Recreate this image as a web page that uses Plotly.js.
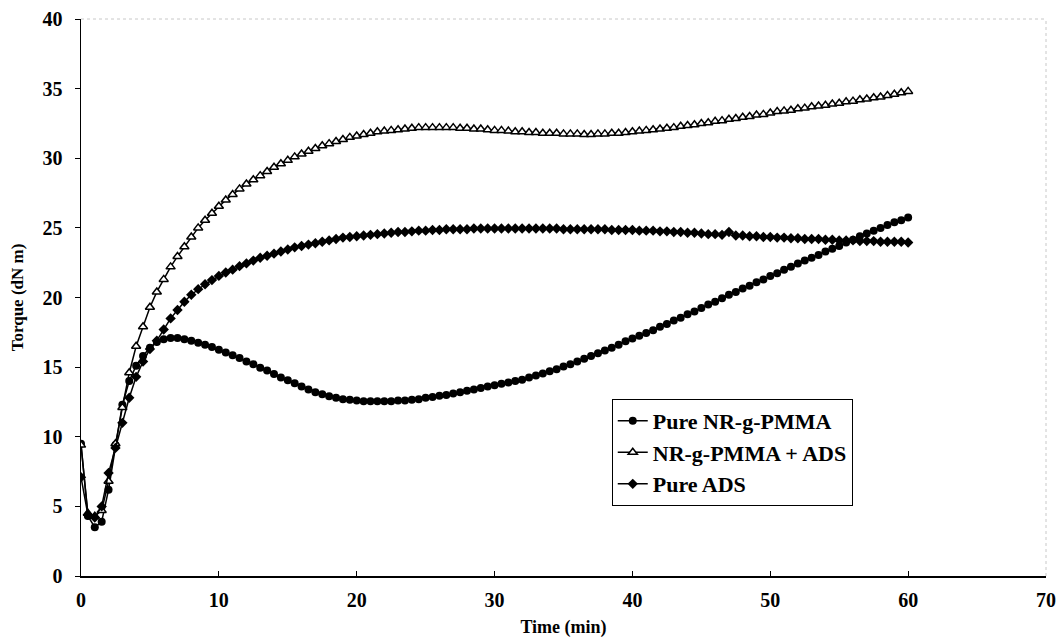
<!DOCTYPE html>
<html>
<head>
<meta charset="utf-8">
<script src="https://cdn.plot.ly/plotly-3.0.1.min.js"></script>
<style>html,body{margin:0;padding:0;background:#fff;}#chart{width:1058px;height:638px;}</style>
</head>
<body>
<div id="chart"></div>
<script>
// Time axis: 0 to 60 min in 0.5 min steps (121 readings per series)
const timeMin = Array.from({length: 121}, (_, i) => i * 0.5);

const pureNRgPMMA = [
 9.5, 4.3, 3.5, 3.9, 6.2, 9.4, 12.3, 14.0, 15.1, 15.8,
 16.4, 16.8, 17.0, 17.1, 17.1, 17.0, 16.9, 16.75, 16.6, 16.45,
 16.25, 16.05, 15.85, 15.65, 15.4, 15.2, 14.95, 14.75, 14.5, 14.25,
 14.05, 13.85, 13.6, 13.4, 13.2, 13.05, 12.9, 12.8, 12.7, 12.65,
 12.6, 12.55, 12.55, 12.55, 12.55, 12.55, 12.6, 12.6, 12.65, 12.7,
 12.8, 12.85, 12.95, 13.0, 13.1, 13.2, 13.3, 13.4, 13.5, 13.6,
 13.7, 13.8, 13.9, 14.0, 14.1, 14.25, 14.4, 14.55, 14.7, 14.85,
 15.05, 15.2, 15.4, 15.6, 15.8, 16.0, 16.2, 16.4, 16.6, 16.85,
 17.05, 17.25, 17.45, 17.65, 17.9, 18.1, 18.35, 18.55, 18.8, 19.0,
 19.25, 19.5, 19.7, 19.95, 20.2, 20.4, 20.65, 20.85, 21.1, 21.3,
 21.55, 21.75, 22.0, 22.2, 22.45, 22.65, 22.85, 23.05, 23.3, 23.5,
 23.7, 23.95, 24.15, 24.4, 24.6, 24.8, 25.0, 25.2, 25.4, 25.55,
 25.75
];

const nrgPMMAplusADS = [
 9.4, 4.5, 4.3, 4.7, 6.8, 9.5, 12.1, 14.6, 16.5, 17.9,
 19.3, 20.4, 21.3, 22.2, 22.95, 23.65, 24.35, 25.0, 25.55, 26.05,
 26.55, 27.0, 27.4, 27.8, 28.15, 28.45, 28.75, 29.05, 29.35, 29.6,
 29.85, 30.1, 30.3, 30.5, 30.7, 30.9, 31.05, 31.2, 31.35, 31.5,
 31.6, 31.7, 31.8, 31.9, 31.95, 32.0, 32.05, 32.1, 32.15, 32.2,
 32.2, 32.2, 32.2, 32.2, 32.2, 32.15, 32.15, 32.1, 32.1, 32.05,
 32.0, 32.0, 31.95, 31.9, 31.9, 31.85, 31.85, 31.8, 31.8, 31.8,
 31.75, 31.75, 31.75, 31.7, 31.7, 31.75, 31.75, 31.8, 31.8, 31.85,
 31.9, 31.95, 32.0, 32.05, 32.1, 32.15, 32.2, 32.3, 32.35, 32.4,
 32.5, 32.55, 32.65, 32.7, 32.8, 32.85, 32.95, 33.0, 33.1, 33.15,
 33.25, 33.35, 33.4, 33.45, 33.55, 33.6, 33.7, 33.75, 33.8, 33.9,
 33.95, 34.05, 34.1, 34.2, 34.25, 34.35, 34.4, 34.5, 34.6, 34.7,
 34.8
];

const pureADS = [
 7.1, 4.4, 4.2, 5.0, 7.4, 9.2, 11.0, 12.8, 14.3, 15.4,
 16.3, 16.9, 17.7, 18.5, 19.1, 19.7, 20.2, 20.6, 20.95, 21.25,
 21.55, 21.8, 22.0, 22.25, 22.45, 22.65, 22.85, 23.0, 23.15, 23.3,
 23.45, 23.6, 23.7, 23.8, 23.9, 24.0, 24.1, 24.2, 24.3, 24.35,
 24.4, 24.45, 24.5, 24.55, 24.6, 24.65, 24.7, 24.7, 24.75, 24.8,
 24.8, 24.85, 24.85, 24.9, 24.9, 24.9, 24.9, 24.95, 24.95, 24.95,
 24.95, 24.95, 24.95, 24.95, 24.95, 24.95, 24.95, 24.95, 24.95, 24.95,
 24.9, 24.9, 24.9, 24.9, 24.9, 24.9, 24.9, 24.85, 24.85, 24.85,
 24.85, 24.8, 24.8, 24.8, 24.75, 24.75, 24.7, 24.7, 24.65, 24.65,
 24.6, 24.55, 24.55, 24.5, 24.7, 24.45, 24.45, 24.4, 24.4, 24.35,
 24.35, 24.3, 24.3, 24.25, 24.25, 24.2, 24.2, 24.2, 24.15, 24.15,
 24.1, 24.1, 24.1, 24.05, 24.05, 24.05, 24.0, 24.0, 24.0, 24.0,
 23.95
];

const seriesNames = ["Pure NR-g-PMMA", "NR-g-PMMA + ADS", "Pure ADS"];
const xTicks = [0, 10, 20, 30, 40, 50, 60, 70];
const yTicks = [0, 5, 10, 15, 20, 25, 30, 35, 40];

const serif = "'Liberation Serif', 'Times New Roman', 'DejaVu Serif', serif";
const b = s => "<b>" + s + "</b>";

const traces = [
  {
    x: timeMin, y: pureNRgPMMA, name: b(seriesNames[0]), legendgroup: "g1", type: "scatter", mode: "lines+markers",
    line: {color: "#000", width: 1.5},
    marker: {symbol: "circle", size: 8, color: "#000"}
  },
  {
    x: timeMin, y: nrgPMMAplusADS, name: b(seriesNames[1]), legendgroup: "g2", type: "scatter", mode: "lines+markers",
    line: {color: "#000", width: 1.5},
    marker: {symbol: "triangle-up", size: 8, color: "#fff", line: {color: "#000", width: 1.5}}
  },
  {
    x: timeMin, y: pureADS, name: b(seriesNames[2]), legendgroup: "g3", type: "scatter", mode: "lines+markers",
    line: {color: "#000", width: 1.5},
    marker: {symbol: "diamond", size: 8, color: "#000"}
  }
];

const layout = {
  width: 1058, height: 638,
  paper_bgcolor: "#fff", plot_bgcolor: "#fff",
  margin: {l: 81, r: 12, t: 19, b: 62},
  showlegend: true,
  font: {family: serif, color: "#000", size: 20},
  xaxis: {
    range: [0, 70], tickvals: xTicks, ticktext: xTicks.map(v => b(v)),
    showgrid: false, zeroline: false,
    showline: true, linecolor: "#000", linewidth: 1.5,
    ticks: "inside", ticklen: 5, tickcolor: "#000", tickwidth: 1,
    tickfont: {family: serif, size: 20, color: "#000"},
    ticklabelstandoff: 5,
    title: {text: b("Time (min)"), font: {family: serif, size: 18, color: "#000"}, standoff: 11}
  },
  yaxis: {
    range: [0, 40], tickvals: yTicks, ticktext: yTicks.map(v => b(v)),
    showgrid: false, zeroline: false,
    showline: true, linecolor: "#000", linewidth: 1.5,
    ticks: "outside", ticklen: 5, tickcolor: "#000", tickwidth: 1,
    tickfont: {family: serif, size: 20, color: "#000"},
    ticklabelstandoff: 8,
    title: {text: b("Torque (dN m)"), font: {family: serif, size: 17, color: "#000"}, standoff: 14}
  },
  legend: {
    x: 0.55, y: 0.318, xanchor: "left", yanchor: "top",
    bgcolor: "#fff", bordercolor: "#000", borderwidth: 1,
    font: {family: serif, size: 22, color: "#000"},
    tracegroupgap: 0, itemwidth: 30
  },
  shapes: [
    {type: "line", xref: "paper", yref: "paper", x0: 0, x1: 1, y0: 1, y1: 1,
     line: {color: "#c8c8c8", width: 1, dash: "dot"}},
    {type: "line", xref: "paper", yref: "paper", x0: 1, x1: 1, y0: 0, y1: 1,
     line: {color: "#c8c8c8", width: 1, dash: "dot"}}
  ]
};

Plotly.newPlot("chart", traces, layout, {displayModeBar: false, staticPlot: true});
</script>
</body>
</html>
